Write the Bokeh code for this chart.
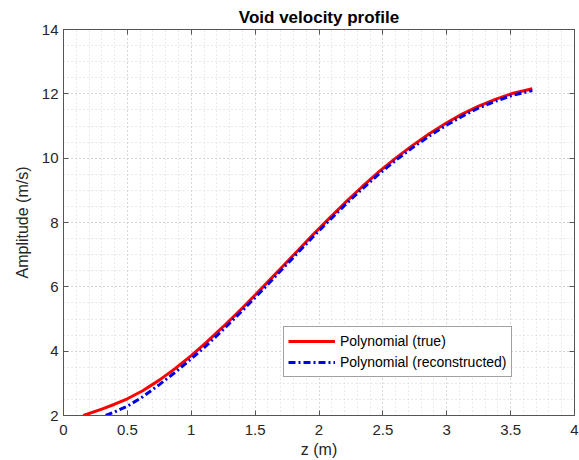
from bokeh.plotting import figure
from bokeh.models import (LinearAxis, SingleIntervalTicker, NumeralTickFormatter,
                          CustomJSTickFormatter, Range1d, Legend, LegendItem)
from bokeh.embed import file_html
from bokeh.resources import INLINE

# Data
z_true = [0.155, 0.3, 0.4, 0.5, 0.62, 0.75, 0.87, 1.0, 1.12, 1.25, 1.4, 1.56, 1.7, 1.82,
          1.95, 2.08, 2.2, 2.34, 2.47, 2.6, 2.73, 2.86, 3.0, 3.12, 3.25, 3.38, 3.52, 3.67]
v_true = [2.0, 2.2, 2.35, 2.52, 2.77, 3.1, 3.45, 3.86, 4.28, 4.76, 5.34, 5.99, 6.57, 7.07,
          7.61, 8.13, 8.6, 9.12, 9.58, 10.0, 10.39, 10.75, 11.1, 11.37, 11.62, 11.83, 12.02, 12.16]

z_recon = [0.33, 0.4, 0.5, 0.62, 0.75, 0.87, 1.0, 1.12, 1.25, 1.4, 1.56, 1.7, 1.82,
           1.95, 2.08, 2.2, 2.34, 2.47, 2.6, 2.73, 2.86, 3.0, 3.12, 3.25, 3.38, 3.52, 3.67]
v_recon = [2.0, 2.11, 2.29, 2.58, 2.96, 3.33, 3.76, 4.18, 4.67, 5.26, 5.91, 6.5, 7.0,
           7.54, 8.06, 8.53, 9.05, 9.51, 9.93, 10.32, 10.68, 11.03, 11.3, 11.56, 11.77, 11.96, 12.1]

x_ticks_interval = 0.5
y_ticks_interval = 2
title_text = "Void velocity profile"
x_label = "z (m)"
y_label = "Amplitude (m/s)"
legend_labels = ["Polynomial (true)", "Polynomial (reconstructed)"]

FONT = "Liberation Sans"
AXC = "#555555"
TXT = "#262626"

p = figure(width=579, height=460, output_backend="svg", toolbar_location=None,
           x_range=Range1d(0, 4), y_range=Range1d(2, 14),
           min_border_left=63, min_border_right=5, min_border_top=29, min_border_bottom=45,
           title=title_text)
p.background_fill_color = "white"
p.border_fill_color = "white"
p.outline_line_color = AXC
p.outline_line_width = 1

p.title.align = "center"
p.title.text_font = FONT
p.title.text_font_style = "bold"
p.title.text_font_size = "17px"
p.title.text_color = "black"
p.title.offset = 0
p.title.standoff = 6

xt = SingleIntervalTicker(interval=x_ticks_interval, num_minor_ticks=5)
yt = SingleIntervalTicker(interval=y_ticks_interval, num_minor_ticks=4)

for ax, tk in ((p.xaxis[0], xt), (p.yaxis[0], yt)):
    ax.ticker = tk
    ax.formatter = NumeralTickFormatter(format="0.[0]")
    ax.axis_line_color = AXC
    ax.major_tick_line_color = AXC
    ax.major_tick_in = 5
    ax.major_tick_out = 0
    ax.minor_tick_in = 0
    ax.minor_tick_out = 0
    ax.major_label_text_font = FONT
    ax.major_label_text_font_size = "15px"
    ax.major_label_text_color = TXT
    ax.axis_label_text_font = FONT
    ax.axis_label_text_font_size = "16px"
    ax.axis_label_text_font_style = "normal"
    ax.axis_label_text_color = TXT

p.xaxis[0].axis_label = x_label
p.xaxis[0].major_label_standoff = 9
p.xaxis[0].axis_label_standoff = 3
p.yaxis[0].axis_label = y_label
p.yaxis[0].major_label_standoff = 5
p.yaxis[0].axis_label_standoff = 8

for loc, tk in (("above", xt), ("right", yt)):
    ax = LinearAxis(ticker=tk, formatter=CustomJSTickFormatter(code="return ''"))
    ax.axis_line_color = AXC
    ax.major_tick_line_color = AXC
    ax.major_tick_in = 5
    ax.major_tick_out = 0
    ax.minor_tick_in = 0
    ax.minor_tick_out = 0
    ax.major_label_standoff = 0
    p.add_layout(ax, loc)

for g in (p.xgrid[0], p.ygrid[0]):
    g.grid_line_color = "#c4c4c4"
    g.grid_line_dash = "1 3"
    g.grid_line_width = 1
    g.minor_grid_line_color = "#d4d4d4"
    g.minor_grid_line_dash = "1 3"
    g.minor_grid_line_width = 1
p.xgrid[0].ticker = xt
p.ygrid[0].ticker = yt

r1 = p.line(z_true, v_true, line_color="#ff0000", line_width=3, line_join="round")
r2 = p.line(z_recon, v_recon, line_color="#0000e6", line_width=3, line_dash="7 3 2 3",
            line_join="round")

legend = Legend(items=[LegendItem(label=legend_labels[0], renderers=[r1]),
                       LegendItem(label=legend_labels[1], renderers=[r2])],
                location=(220, 38))
legend.label_text_font = FONT
legend.label_text_font_size = "14px"
legend.label_text_color = "black"
legend.glyph_width = 47
legend.glyph_height = 20
legend.label_height = 20
legend.label_standoff = 5
legend.spacing = 1
legend.padding = 4
legend.margin = 0
legend.border_line_color = "#444444"
legend.border_line_width = 1
legend.background_fill_color = "white"
legend.background_fill_alpha = 1
p.add_layout(legend, "center")

open("out.html", "w").write(file_html(p, INLINE))
